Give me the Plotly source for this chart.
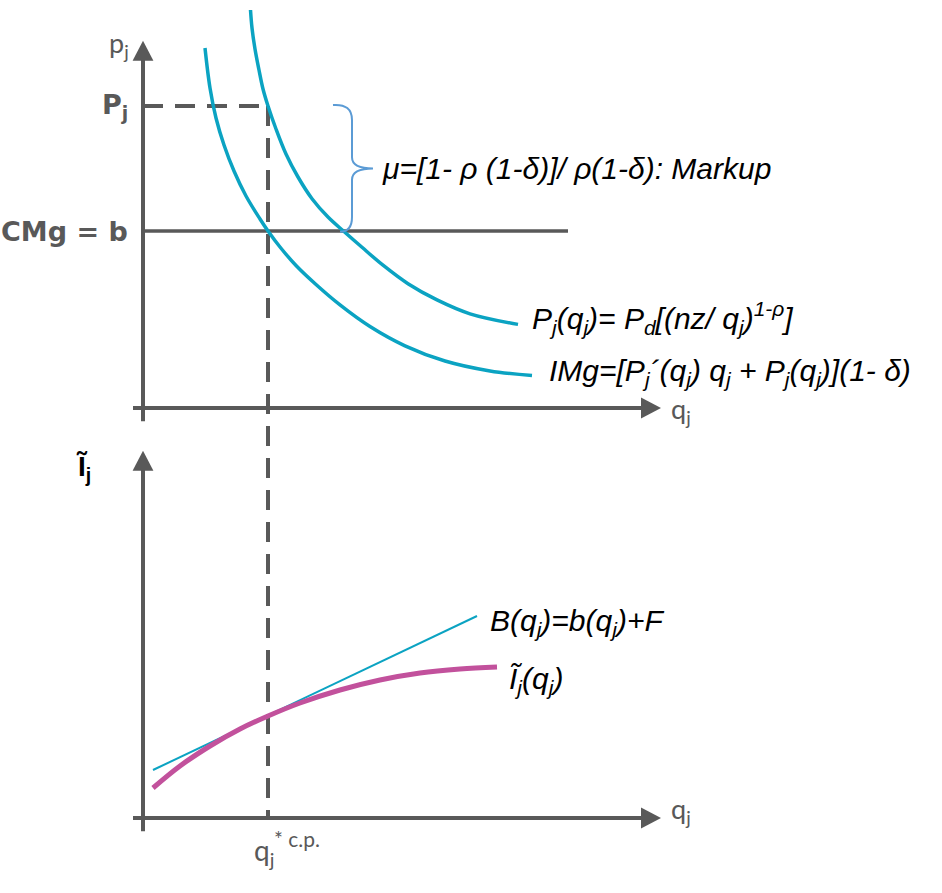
import plotly.graph_objects as go

# ---------------- data (conceptual units) ----------------
# Upper panel: demand curve P_j(q_j)
demand_q = [2.6875, 2.725, 2.8, 2.9, 3.0, 3.125, 3.325, 3.575, 3.875, 4.225, 4.625, 5.025, 5.475, 6.0,
            6.625, 7.35, 8.175, 9.375]
demand_p = [9.95, 9.5, 8.975, 8.45, 7.975, 7.55, 6.975, 6.35, 5.775, 5.2325, 4.775, 4.4125, 4.0175, 3.57,
            3.1075, 2.7025, 2.355, 2.09]
# Upper panel: marginal revenue IMg
img_q = [1.55, 1.675, 1.825, 2.025, 2.275, 2.575, 2.925, 3.125, 3.425, 3.825, 4.325, 4.925, 5.675, 6.55,
         7.55, 8.675, 9.725]
img_p = [9.0, 8.0, 7.25, 6.575, 5.925, 5.3, 4.725, 4.425, 4.025, 3.5625, 3.0875, 2.5775, 2.0375, 1.555,
         1.175, 0.9275, 0.8125]
# Marginal cost level and its extent
cmg_b = 4.425
cmg_q_end = 10.625
# Equilibrium
q_star = 3.125
p_j = 7.55
# Lower panel: B(q) line and I~(q) curve
b_q = [0.25, 8.35]
b_val = [1.2, 5.05]
it_q = [0.25, 0.925, 1.675, 2.425, 3.125, 3.925, 4.925, 5.925, 6.925, 7.925, 8.85]
it_val = [0.75, 1.3, 1.8, 2.225, 2.55, 2.875, 3.2, 3.45, 3.625, 3.725, 3.775]

# ---------------- styling ----------------
GRAY = "#595959"
TEAL = "#0ba3c2"
MAGENTA = "#c2519c"
BRACE = "#5b9bd5"
LABEL_FONT = "Lato, 'Open Sans', sans-serif"
BOLD_FONT = "'DejaVu Sans', sans-serif"
FORM_FONT = "'Liberation Sans', Arial, sans-serif"

X_RANGE = [-3.575, 19.975]
Y1_RANGE = [-0.9625, 10.2]
Y2_RANGE = [-1.875, 9.2875]
Y1_DOM = [0.5, 1.0]
Y2_DOM = [0.0, 0.5]


def to_paper(val, rng, dom):
    return dom[0] + (val - rng[0]) / (rng[1] - rng[0]) * (dom[1] - dom[0])


fig = go.Figure()

# curves
fig.add_trace(go.Scatter(x=demand_q, y=demand_p, mode="lines", line=dict(color=TEAL, width=3.5, shape="spline"),
                         xaxis="x", yaxis="y", hoverinfo="skip"))
fig.add_trace(go.Scatter(x=img_q, y=img_p, mode="lines", line=dict(color=TEAL, width=3.5, shape="spline"),
                         xaxis="x", yaxis="y", hoverinfo="skip"))
fig.add_trace(go.Scatter(x=b_q, y=b_val, mode="lines", line=dict(color=TEAL, width=2),
                         xaxis="x2", yaxis="y2", hoverinfo="skip"))
fig.add_trace(go.Scatter(x=it_q, y=it_val, mode="lines", line=dict(color=MAGENTA, width=5, shape="spline"),
                         xaxis="x2", yaxis="y2", hoverinfo="skip"))

shapes = []
# CMg line
shapes.append(dict(type="line", xref="x", yref="y", x0=0, x1=cmg_q_end, y0=cmg_b, y1=cmg_b,
                   line=dict(color=GRAY, width=3.5), layer="below"))
# dashed horizontal at P_j
shapes.append(dict(type="line", xref="x", yref="y", x0=0, x1=q_star, y0=p_j, y1=p_j,
                   line=dict(color=GRAY, width=4, dash="20px,12px"), layer="below"))
# dashed vertical across both panels
shapes.append(dict(type="line", xref="x", yref="paper", x0=q_star, x1=q_star,
                   y0=to_paper(p_j, Y1_RANGE, Y1_DOM), y1=to_paper(0, Y2_RANGE, Y2_DOM),
                   line=dict(color=GRAY, width=4, dash="20px,12px"), layer="below"))

# axes with arrows (both panels)
for xr, yr in (("x", "y"), ("x2", "y2")):
    shapes.append(dict(type="line", xref=xr, yref=yr, x0=0, x1=0, y0=-0.33, y1=8.75,
                       line=dict(color=GRAY, width=4)))
    shapes.append(dict(type="line", xref=xr, yref=yr, x0=-0.25, x1=12.5, y0=0, y1=0,
                       line=dict(color=GRAY, width=4)))
    shapes.append(dict(type="path", xref=xr, yref=yr, path="M -0.26,8.68 L 0,9.18 L 0.26,8.68 Z",
                       fillcolor=GRAY, line=dict(width=0)))
    shapes.append(dict(type="path", xref=xr, yref=yr, path="M 12.45,-0.26 L 12.95,0 L 12.45,0.26 Z",
                       fillcolor=GRAY, line=dict(width=0)))

# brace for markup
bx = 5.225
mid = (p_j + cmg_b) / 2
brace = (f"M {bx-0.475},{p_j+0.025} Q {bx},{p_j+0.06} {bx},{p_j-0.35} "
         f"L {bx},{mid+0.28} Q {bx},{mid} {bx+0.525},{mid} "
         f"Q {bx},{mid} {bx},{mid-0.28} L {bx},{cmg_b+0.35} Q {bx},{cmg_b-0.02} {bx-0.3},{cmg_b-0.02}")
shapes.append(dict(type="path", xref="x", yref="y", path=brace, line=dict(color=BRACE, width=2)))

annotations = []


def ann(text, x, y, xr="x", yr="y", size=30, color="black", family=FORM_FONT, xanchor="left", yanchor="middle"):
    annotations.append(dict(text=text, x=x, y=y, xref=xr, yref=yr, showarrow=False,
                            font=dict(size=size, color=color, family=family),
                            xanchor=xanchor, yanchor=yanchor))


# upper panel labels
ann("p<sub>j</sub>", -0.3, 9.1, size=27, color=GRAY, family=LABEL_FONT, xanchor="right")
ann("<b>P<sub>j</sub></b>", -0.33, p_j, size=27, color=GRAY, family=BOLD_FONT, xanchor="right")
ann("<b>CMg = b</b>", -0.33, cmg_b, size=27, color=GRAY, family=BOLD_FONT, xanchor="right")
ann("q<sub>j</sub>", 13.15, -0.05, size=27, color=GRAY, family=LABEL_FONT)
ann("<i>μ=[1- ρ (1-δ)]/ ρ(1-δ): Markup</i>", 5.925, mid, size=30)
ann("<i>P<sub>j</sub>(q<sub>j</sub>)= P<sub>d</sub>[(nz/ q<sub>j</sub>)<sup>1-ρ</sup>]</i>", 9.675, 2.25, size=30)
ann("<i>IMg=[P<sub>j</sub>´(q<sub>j</sub>) q<sub>j</sub> + P<sub>j</sub>(q<sub>j</sub>)](1- δ)</i>", 10.1, 0.9, size=30)

# lower panel labels
ann("<b>Ĩ<sub>j</sub></b>", -1.5, 8.75, xr="x2", yr="y2", size=28, color="black", family=FORM_FONT, xanchor="center")
ann("q<sub>j</sub>", 13.15, 0.2, xr="x2", yr="y2", size=27, color=GRAY, family=LABEL_FONT)
ann("<i>B(q<sub>j</sub>)=b(q<sub>j</sub>)+F</i>", 8.625, 4.9, xr="x2", yr="y2", size=30)
ann("<i>Ĩ<sub>j</sub>(q<sub>j</sub>)</i>", 9.1, 3.45, xr="x2", yr="y2", size=30)
ann("q<sub>j</sub>", q_star - 0.4, -0.85, xr="x2", yr="y2", size=28, color=GRAY, family=LABEL_FONT)
ann("* c.p.", q_star + 0.1, -0.5, xr="x2", yr="y2", size=21, color=GRAY, family=LABEL_FONT)

hidden = dict(visible=False, showgrid=False, zeroline=False, fixedrange=True)
fig.update_layout(
    width=942, height=893,
    margin=dict(l=0, r=0, t=0, b=0),
    paper_bgcolor="white", plot_bgcolor="white",
    showlegend=False,
    xaxis=dict(range=X_RANGE, domain=[0, 1], anchor="y", **hidden),
    yaxis=dict(range=Y1_RANGE, domain=Y1_DOM, anchor="x", **hidden),
    xaxis2=dict(range=X_RANGE, domain=[0, 1], anchor="y2", **hidden),
    yaxis2=dict(range=Y2_RANGE, domain=Y2_DOM, anchor="x2", **hidden),
    shapes=shapes,
    annotations=annotations,
)

fig.write_html("out.html", config={"displayModeBar": False},
               post_script="document.body.style.margin='0px';")
